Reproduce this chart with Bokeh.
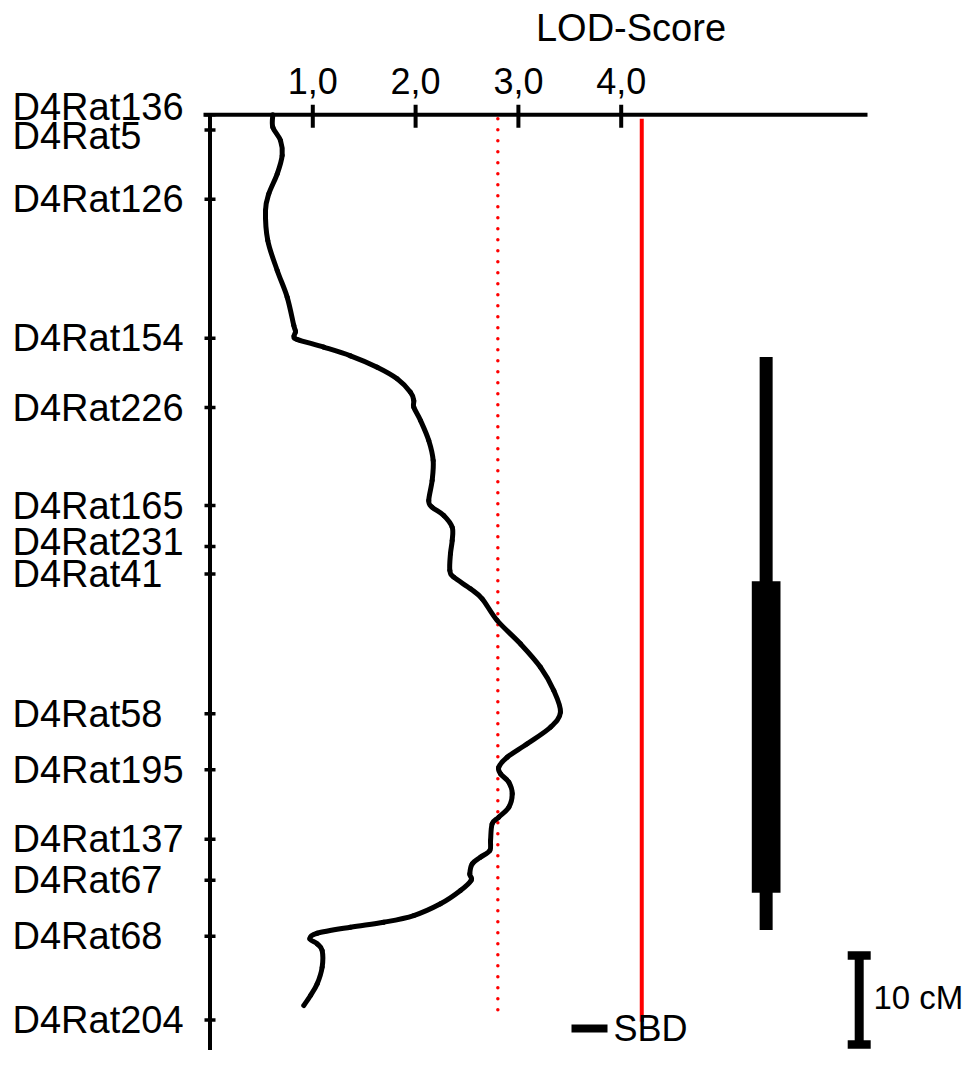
from bokeh.plotting import figure
from bokeh.models import Range1d, ColumnDataSource
from bokeh.embed import file_html
from bokeh.resources import INLINE
from bokeh.core.properties import value

# ---------------- data ----------------
markers = ["D4Rat136", "D4Rat5", "D4Rat126", "D4Rat154", "D4Rat226", "D4Rat165",
           "D4Rat231", "D4Rat41", "D4Rat58", "D4Rat195", "D4Rat137", "D4Rat67",
           "D4Rat68", "D4Rat204"]
marker_cm = [0.0, 1.7, 9.5, 25.1, 32.9, 43.9, 48.5, 51.6, 67.3, 73.6, 81.4, 86.0, 92.3, 101.7]

lod_ticks = [1, 2, 3, 4]
lod_tick_labels = ["1,0", "2,0", "3,0", "4,0"]

curve_cm = [0.0, 1.39, 2.89, 4.57, 6.63, 8.88, 10.75, 14.12, 17.49, 20.49, 23.67, 24.35,
            24.91, 25.25, 26.11, 27.08, 28.36, 29.66, 31.17, 32.10, 32.85, 34.35, 36.60,
            38.84, 41.09, 43.34, 44.09, 45.02, 46.34, 47.83, 49.33, 51.20, 51.96, 53.26,
            54.38, 56.82, 59.44, 62.07, 64.69, 67.12, 68.81, 70.67, 72.18, 73.30, 74.04,
            74.99, 76.29, 77.80, 78.92, 79.66, 81.54, 82.66, 83.42, 84.16, 85.30, 86.00,
            87.15, 88.65, 89.97, 90.72, 91.28, 91.96, 92.58, 93.15, 93.90, 95.78, 97.64,
            98.95, 100.08]
curve_lod = [0.611, 0.611, 0.686, 0.702, 0.654, 0.572, 0.540, 0.562, 0.654, 0.751, 0.815, 0.832,
             0.817, 0.851, 1.107, 1.367, 1.626, 1.821, 1.950, 1.982, 1.982, 2.048, 2.128,
             2.171, 2.161, 2.128, 2.161, 2.274, 2.356, 2.356, 2.339, 2.333, 2.372, 2.534,
             2.648, 2.794, 3.020, 3.215, 3.344, 3.409, 3.312, 3.086, 2.891, 2.809, 2.826,
             2.907, 2.940, 2.907, 2.809, 2.745, 2.729, 2.722, 2.631, 2.551, 2.527, 2.541,
             2.437, 2.242, 1.982, 1.691, 1.367, 1.043, 0.971, 1.043, 1.091, 1.091, 1.043,
             0.978, 0.912]

threshold_suggestive = [2.8]
threshold_significant = [4.2]
threshold_cm = [0.45, 101.7]

ci_lod = [5.41]
ci_outer_cm = [27.2, 91.6]
ci_inner_cm = [52.4, 87.4]

scale_cm = 10
sbd_label = "SBD"
scale_label = "10 cM"
x_title = "LOD-Score"

# ---------------- layout (pixels) ----------------
W, H = 963, 1050
PX_X = 102.8          # px per LOD unit
PX_Y = 8.9            # px per cM
X0_PX = 209.5         # canvas x of LOD 0
Y0_PX = 114.3         # canvas y of cM 0

x_start = -X0_PX / PX_X
x_end = (W - X0_PX) / PX_X
y_top = -Y0_PX / PX_Y
y_bot = (H - Y0_PX) / PX_Y


def px_x(px):
    return (px - X0_PX) / PX_X


def px_y(px):
    return (px - Y0_PX) / PX_Y


FONT = value("Liberation Sans")

p = figure(width=W, height=H, x_range=Range1d(x_start, x_end), y_range=Range1d(y_bot, y_top),
           output_backend="svg", toolbar_location=None, min_border=0,
           x_axis_location=None, y_axis_location=None, outline_line_color=None)
p.grid.visible = False
p.background_fill_color = "white"
p.border_fill_color = "white"

# axes (drawn in data space)
p.segment(x0=[px_x(203)], x1=[px_x(867)], y0=[0], y1=[0], line_color="black", line_width=4)
p.segment(x0=[0], x1=[0], y0=[0], y1=[y_bot + 5], line_color="black", line_width=4)

# top ticks and labels
tick_src = ColumnDataSource(dict(x=lod_ticks, lab=lod_tick_labels))
p.segment(x0="x", x1="x", y0=-10 / PX_Y, y1=13 / PX_Y, source=tick_src,
          line_color="black", line_width=4)
p.text(x="x", y=0, text="lab", source=tick_src, text_font=FONT, text_font_size="36px",
       text_align="center", text_baseline="middle", y_offset=-34, text_color="black")
p.text(x=[px_x(630.5)], y=[0], text=[x_title], text_font=FONT, text_font_size="38px",
       text_align="center", text_baseline="middle", y_offset=-87, text_color="black")

# left ticks and marker labels
label_shift = {"D4Rat136": -8, "D4Rat5": 6, "D4Rat231": -4}
mk_src = ColumnDataSource(dict(y=marker_cm, name=markers,
                               dy=[label_shift.get(m, 0) for m in markers]))
p.segment(x0=-5.5 / PX_X, x1=5.5 / PX_X, y0="y", y1="y", source=mk_src,
          line_color="black", line_width=3.5)
p.text(x=px_x(12), y="y", text="name", y_offset="dy", source=mk_src,
       text_font=FONT, text_font_size="38px", text_align="left", text_baseline="middle",
       text_color="black")

# thresholds
p.segment(x0=threshold_suggestive, x1=threshold_suggestive, y0=[threshold_cm[0]],
          y1=[threshold_cm[1]], line_color="#ff0000", line_width=3.5,
          line_dash="0 11", line_cap="round")
p.segment(x0=threshold_significant, x1=threshold_significant, y0=[threshold_cm[0]],
          y1=[threshold_cm[1] + 0.2], line_color="#ff0000", line_width=4)

# LOD curve, drawn as a smooth Catmull-Rom path through the read points
n = len(curve_lod)
bx0, by0, bx1, by1, cx0, cy0, cx1, cy1 = [], [], [], [], [], [], [], []
for i in range(n - 1):
    xa, ya = curve_lod[i], curve_cm[i]
    xb, yb = curve_lod[i + 1], curve_cm[i + 1]
    xp, yp = (curve_lod[i - 1], curve_cm[i - 1]) if i > 0 else (xa, ya)
    xn, yn = (curve_lod[i + 2], curve_cm[i + 2]) if i + 2 < n else (xb, yb)
    bx0.append(xa); by0.append(ya); bx1.append(xb); by1.append(yb)
    cx0.append(xa + (xb - xp) / 6.0); cy0.append(ya + (yb - yp) / 6.0)
    cx1.append(xb - (xn - xa) / 6.0); cy1.append(yb - (yn - ya) / 6.0)
p.bezier(x0=bx0, y0=by0, x1=bx1, y1=by1, cx0=cx0, cy0=cy0, cx1=cx1, cy1=cy1,
         line_color="black", line_width=5, line_cap="round")

# confidence interval bars
p.vbar(x=ci_lod, width=13 / PX_X, top=[ci_outer_cm[0]], bottom=[ci_outer_cm[1]],
       fill_color="black", line_color=None)
p.vbar(x=ci_lod, width=28.7 / PX_X, top=[ci_inner_cm[0]], bottom=[ci_inner_cm[1]],
       fill_color="black", line_color=None)

# SBD key
sbd_y = px_y(1028)
p.segment(x0=[px_x(571)], x1=[px_x(607)], y0=[sbd_y], y1=[sbd_y], line_color="black",
          line_width=8)
p.text(x=[px_x(613)], y=[sbd_y], text=[sbd_label], text_font=FONT, text_font_size="36px",
       text_align="left", text_baseline="middle", text_color="black")

# 10 cM scale bar
sb_x = px_x(858.7)
sb_top = px_y(955)
sb_bot = sb_top + scale_cm
cap = 11.5 / PX_X
p.segment(x0=[sb_x], x1=[sb_x], y0=[sb_top], y1=[sb_bot], line_color="black", line_width=9)
p.segment(x0=[sb_x - cap, sb_x - cap], x1=[sb_x + cap, sb_x + cap], y0=[sb_top, sb_bot],
          y1=[sb_top, sb_bot], line_color="black", line_width=8.5)
p.text(x=[px_x(873)], y=[(sb_top + sb_bot) / 2], text=[scale_label], text_font=FONT,
       text_font_size="33px", text_align="left", text_baseline="middle", y_offset=-3,
       text_color="black")

open("out.html", "w").write(file_html(p, INLINE))
